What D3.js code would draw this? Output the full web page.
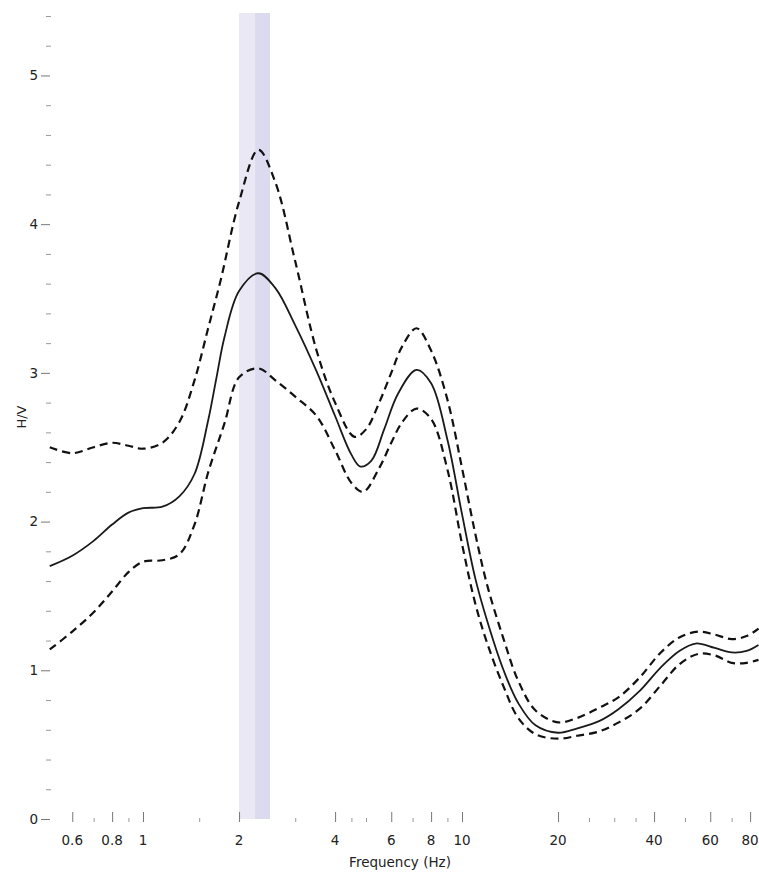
<!DOCTYPE html>
<html>
<head>
<meta charset="utf-8">
<script src="https://cdn.jsdelivr.net/npm/d3@7"></script>
<style>
  html, body { margin: 0; padding: 0; background: #fff; }
  svg { display: block; }
  text { font-family: "DejaVu Sans", Verdana, sans-serif; fill: #222; }
</style>
</head>
<body>
<script>
// ---- data ----
const meanFreq  = [0.51,0.6,0.7,0.8,0.9,1.0,1.15,1.3,1.45,1.6,1.7,1.8,2.0,2.3,2.6,3.0,3.5,4.0,4.5,4.8,5.2,5.7,6.3,7.2,8.0,9.0,10,11,12,13.5,15,17,20,23,27,31,36,42,48,54,62,70,78,85];
const meanHV    = [1.70,1.77,1.87,1.98,2.06,2.09,2.10,2.17,2.32,2.68,2.97,3.24,3.55,3.67,3.57,3.32,3.01,2.71,2.45,2.37,2.41,2.62,2.86,3.02,2.93,2.55,2.05,1.62,1.33,1.00,0.78,0.63,0.58,0.61,0.66,0.74,0.86,1.02,1.13,1.18,1.15,1.12,1.13,1.17];

const upperFreq = [0.51,0.6,0.7,0.8,0.9,1.0,1.15,1.3,1.45,1.6,1.75,2.0,2.3,2.6,3.0,3.5,4.0,4.6,5.0,5.5,6.0,6.5,7.2,8.0,9.0,10,11,12,13.5,15,17,20,23,27,31,36,42,48,55,62,70,78,85];
const upperHV   = [2.50,2.46,2.50,2.53,2.51,2.49,2.53,2.67,2.95,3.30,3.62,4.15,4.50,4.28,3.75,3.15,2.80,2.57,2.62,2.80,3.00,3.18,3.30,3.15,2.82,2.36,1.92,1.57,1.21,0.93,0.73,0.65,0.68,0.75,0.82,0.95,1.12,1.22,1.26,1.24,1.21,1.23,1.28];

const lowerFreq = [0.51,0.6,0.7,0.8,0.9,1.0,1.15,1.3,1.45,1.6,1.8,2.0,2.3,2.6,3.0,3.5,4.0,4.5,4.9,5.5,6.0,6.5,7.2,8.0,9.0,10,11,12,13.5,15,17,20,23,27,31,36,42,48,55,62,70,78,85];
const lowerHV   = [1.14,1.26,1.39,1.53,1.66,1.73,1.74,1.78,1.98,2.33,2.66,2.97,3.03,2.95,2.84,2.71,2.48,2.26,2.20,2.36,2.53,2.67,2.76,2.69,2.35,1.85,1.45,1.18,0.89,0.68,0.57,0.54,0.56,0.59,0.65,0.74,0.90,1.04,1.11,1.10,1.05,1.05,1.07];

// f0 band: [low, f0] and [f0, high]
const bandFreqs = [2.0, 2.245, 2.50];

const xTickValues = [0.6,0.8,1,2,4,6,8,10,20,40,60,80];
const xTickLabels = ["0.6","0.8","1","2","4","6","8","10","20","40","60","80"];
const xMinorTicks = [0.7,0.9,1.5,3,4.5,5,7,9,25,30,35,50,70];
const yTickValues = [0,1,2,3,4,5];
const yTickLabels = ["0","1","2","3","4","5"];

const xLabel = "Frequency (Hz)";
const yLabel = "H/V";

// ---- layout ----
const W = 759, H = 873;
const x = d3.scaleLog().domain([0.5, 85]).range([47, 758.5]);
const y = d3.scaleLinear().domain([0, 5.42]).range([819, 13]);

const svg = d3.select("body").append("svg").attr("width", W).attr("height", H);

// band
svg.append("rect")
  .attr("x", x(bandFreqs[0])).attr("y", y(5.42))
  .attr("width", x(bandFreqs[1]) - x(bandFreqs[0]))
  .attr("height", y(0) - y(5.42))
  .attr("fill", "#eae8f4");
svg.append("rect")
  .attr("x", x(bandFreqs[1])).attr("y", y(5.42))
  .attr("width", x(bandFreqs[2]) - x(bandFreqs[1]))
  .attr("height", y(0) - y(5.42))
  .attr("fill", "#dcdaee");

// y axis
const yMinor = d3.range(0, 5.41, 0.2).filter(v => Math.abs(v - Math.round(v)) > 1e-6);
const yAxisMajor = d3.axisLeft(y).tickValues(yTickValues).tickFormat((d, i) => yTickLabels[i]).tickSize(9).tickPadding(3);
const gy = svg.append("g").attr("transform", "translate(50,0)").call(yAxisMajor);
gy.select(".domain").remove();
gy.selectAll("line").attr("stroke", "#777");
gy.selectAll("text").attr("font-size", "13.5px").attr("fill", "#222").style("font-family", "DejaVu Sans, sans-serif");
const gyMinor = svg.append("g").attr("transform", "translate(51,0)")
  .call(d3.axisLeft(y).tickValues(yMinor).tickSize(5).tickFormat(""));
gyMinor.select(".domain").remove();
gyMinor.selectAll("line").attr("stroke", "#999");

// x axis
const gx = svg.append("g").attr("transform", `translate(0,${y(0) + 3})`)
  .call(d3.axisTop(x).tickValues(xTickValues).tickSize(10).tickFormat(""));
gx.select(".domain").remove();
gx.selectAll("line").attr("stroke", "#777");
const gxMinor = svg.append("g").attr("transform", `translate(0,${y(0) + 3})`)
  .call(d3.axisTop(x).tickValues(xMinorTicks).tickSize(4).tickFormat(""));
gxMinor.select(".domain").remove();
gxMinor.selectAll("line").attr("stroke", "#999");

svg.append("g").selectAll("text").data(xTickValues).join("text")
  .attr("x", d => x(d)).attr("y", 845)
  .attr("text-anchor", "middle").attr("font-size", "13.5px")
  .text((d, i) => xTickLabels[i]);

svg.append("text").attr("x", 400).attr("y", 867)
  .attr("text-anchor", "middle").attr("font-size", "13.5px").text(xLabel);

svg.append("text")
  .attr("transform", "translate(26,417) rotate(-90)")
  .attr("text-anchor", "middle").attr("font-size", "13px").attr("fill", "#444").text(yLabel);

// curves
const line = d3.line().x(d => x(d[0])).y(d => y(d[1])).curve(d3.curveCatmullRom.alpha(0.5));
const zip = (a, b) => a.map((f, i) => [f, b[i]]);

svg.append("path").datum(zip(upperFreq, upperHV)).attr("d", line)
  .attr("fill", "none").attr("stroke", "#111").attr("stroke-width", 2.2).attr("stroke-dasharray", "8,5");
svg.append("path").datum(zip(lowerFreq, lowerHV)).attr("d", line)
  .attr("fill", "none").attr("stroke", "#111").attr("stroke-width", 2.2).attr("stroke-dasharray", "8,5");
svg.append("path").datum(zip(meanFreq, meanHV)).attr("d", line)
  .attr("fill", "none").attr("stroke", "#1a1a1a").attr("stroke-width", 1.8);
</script>
</body>
</html>
